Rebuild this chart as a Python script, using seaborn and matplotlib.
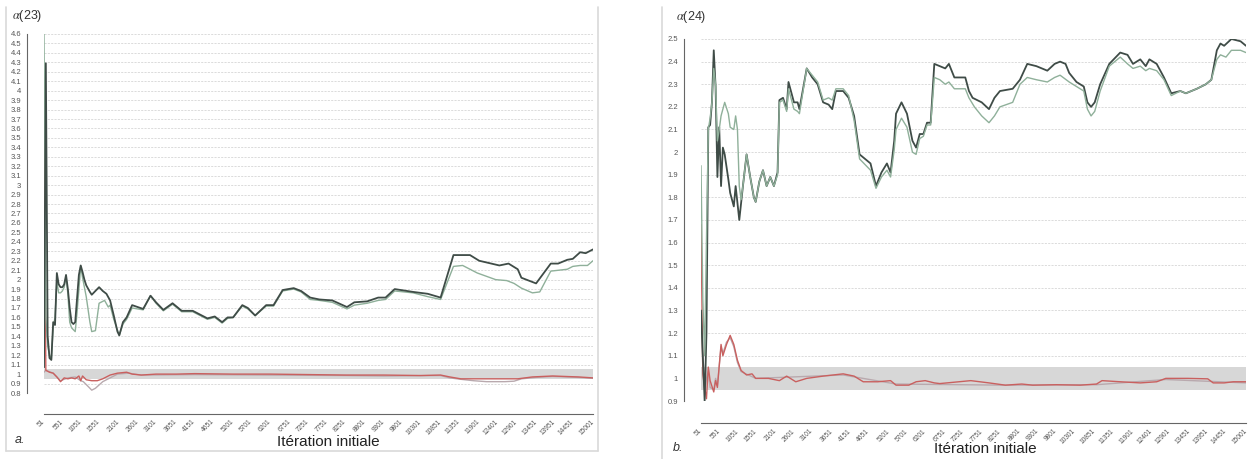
import matplotlib
matplotlib.use("Agg")
import matplotlib.pyplot as plt
import pandas as pd
import seaborn as sns
from matplotlib.lines import Line2D

sns.set_style("white")
plt.rcParams['font.family'] = ['Liberation Sans', 'DejaVu Sans']
plt.rcParams['mathtext.fontset'] = 'stix'

# x tick labels (iteration initiale), shared by both panels
iter_ticks = [51, 551, 1051, 1551, 2101, 2601, 3101, 3651, 4151, 4651, 5201, 5701,
              6201, 6751, 7251, 7751, 8251, 8801, 9301, 9801, 10301, 10851, 11351,
              11901, 12401, 12901, 13451, 13951, 14451, 15001]

a_yticks = [0.8, 0.9, 1.0, 1.1, 1.2, 1.3, 1.4, 1.5, 1.6, 1.7, 1.8, 1.9, 2.0, 2.1, 2.2,
            2.3, 2.4, 2.5, 2.6, 2.7, 2.8, 2.9, 3.0, 3.1, 3.2, 3.3, 3.4, 3.5, 3.6, 3.7,
            3.8, 3.9, 4.0, 4.1, 4.2, 4.3, 4.4, 4.5, 4.6]
b_yticks = [0.9, 1.0, 1.1, 1.2, 1.3, 1.4, 1.5, 1.6, 1.7, 1.8, 1.9, 2.0, 2.1, 2.2, 2.3,
            2.4, 2.5]

band_lo, band_hi = 0.95, 1.05

# ---- panel a : alpha(23) ----
a_dark_x = [51, 101, 151, 201, 251, 301, 351, 401, 451, 501, 551, 601, 651, 701, 751,
            801, 851, 901, 951, 1001, 1051, 1101, 1151, 1201, 1301, 1351, 1451, 1551,
            1651, 1751, 1851, 1951, 2051, 2101, 2201, 2301, 2451, 2601, 2751, 2951,
            3101, 3301, 3551, 3801, 4101, 4301, 4501, 4701, 4901, 5051, 5201, 5451,
            5601, 5801, 6101, 6301, 6551, 6851, 7051, 7301, 7551, 7901, 8301, 8501,
            8851, 9151, 9351, 9601, 10101, 10501, 10851, 11201, 11651, 11901, 12451,
            12701, 12951, 13051, 13451, 13851, 14051, 14301, 14451, 14651, 14801, 15001]
a_dark_y = [1.07, 4.29, 1.40, 1.17, 1.15, 1.55, 1.52, 2.07, 1.95, 1.92, 1.92, 1.95, 2.05,
            1.90, 1.70, 1.55, 1.53, 1.55, 1.80, 2.05, 2.15, 2.08, 2.00, 1.94, 1.87, 1.84,
            1.88, 1.92, 1.88, 1.85, 1.78, 1.62, 1.45, 1.41, 1.55, 1.60, 1.73, 1.71, 1.69,
            1.83, 1.76, 1.68, 1.75, 1.67, 1.67, 1.63, 1.59, 1.61, 1.55, 1.60, 1.60, 1.73,
            1.70, 1.62, 1.73, 1.73, 1.89, 1.91, 1.88, 1.81, 1.79, 1.78, 1.71, 1.76, 1.77,
            1.81, 1.81, 1.90, 1.87, 1.85, 1.81, 2.26, 2.26, 2.20, 2.15, 2.17, 2.11, 2.02,
            1.96, 2.17, 2.17, 2.21, 2.22, 2.29, 2.28, 2.32]

a_light_x = [51, 101, 151, 201, 251, 301, 351, 401, 451, 501, 551, 601, 651, 701, 751,
             801, 901, 951, 1051, 1101, 1201, 1301, 1351, 1451, 1551, 1701, 1801, 1851,
             1951, 2101, 2201, 2301, 2451, 2601, 2751, 2951, 3101, 3301, 3551, 3801,
             4101, 4301, 4501, 4701, 4901, 5051, 5201, 5451, 5601, 5801, 6101, 6301,
             6551, 6851, 7051, 7301, 7551, 7901, 8301, 8501, 8851, 9151, 9351, 9601,
             10101, 10501, 10851, 11201, 11451, 11851, 12351, 12651, 12851, 13051,
             13351, 13551, 13851, 14301, 14451, 14651, 14851, 15001]
a_light_y = [4.60, 1.60, 1.30, 1.20, 1.16, 1.50, 1.60, 1.98, 1.86, 1.86, 1.88, 1.92, 2.03,
             1.85, 1.55, 1.49, 1.45, 1.65, 2.14, 2.02, 1.82, 1.55, 1.45, 1.46, 1.75, 1.78,
             1.71, 1.73, 1.58, 1.41, 1.53, 1.58, 1.70, 1.69, 1.68, 1.83, 1.75, 1.67, 1.74,
             1.66, 1.66, 1.62, 1.58, 1.60, 1.54, 1.59, 1.60, 1.72, 1.69, 1.62, 1.72, 1.72,
             1.88, 1.90, 1.87, 1.79, 1.78, 1.76, 1.69, 1.73, 1.75, 1.78, 1.79, 1.88, 1.86,
             1.82, 1.79, 2.14, 2.15, 2.07, 2.00, 1.99, 1.96, 1.91, 1.86, 1.87, 2.09, 2.11,
             2.14, 2.15, 2.15, 2.20]

a_red_x = [51, 101, 201, 301, 401, 501, 601, 701, 801, 901, 1001, 1051, 1101, 1201, 1351,
           1501, 1651, 1851, 2051, 2301, 2451, 2701, 3101, 3651, 4151, 5201, 6201, 7251,
           8251, 9301, 10301, 10851, 11101, 11401, 11901, 12951, 13351, 13901, 14601, 15001]
a_red_y = [3.50, 1.04, 1.02, 1.01, 0.97, 0.92, 0.96, 0.95, 0.96, 0.95, 0.98, 0.93, 0.98,
           0.94, 0.93, 0.93, 0.95, 0.99, 1.01, 1.02, 1.00, 0.99, 1.00, 1.00, 1.005, 1.00,
           1.00, 0.995, 0.99, 0.99, 0.985, 0.99, 0.97, 0.95, 0.95, 0.95, 0.97, 0.98, 0.97,
           0.96]

a_grey_x = [51, 101, 301, 401, 501, 701, 901, 1051, 1121, 1251, 1351, 1451, 1651, 1851,
            2051, 2351, 2701, 4151, 6201, 8251, 9301, 10851, 11101, 11401, 11751, 12101,
            12601, 12851, 13051, 13451, 13901, 14601, 15001]
a_grey_y = [1.02, 1.04, 1.01, 0.97, 0.93, 0.96, 0.97, 0.93, 0.92, 0.87, 0.83, 0.85, 0.92,
            0.96, 1.00, 1.01, 0.99, 0.995, 0.99, 0.985, 0.98, 0.985, 0.96, 0.945, 0.93,
            0.92, 0.92, 0.925, 0.95, 0.965, 0.975, 0.965, 0.955]

# ---- panel b : alpha(24) ----
b_dark_x = [51, 101, 151, 201, 251, 301, 351, 401, 451, 501, 551, 601, 651, 701, 801, 851,
            951, 1001, 1101, 1201, 1301, 1401, 1501, 1551, 1651, 1751, 1851, 1951, 2051,
            2151, 2201, 2301, 2401, 2451, 2601, 2701, 2751, 2951, 3101, 3251, 3401, 3551,
            3651, 3751, 3951, 4101, 4251, 4401, 4701, 4851, 5001, 5151, 5251, 5351, 5401,
            5551, 5701, 5851, 5951, 6051, 6151, 6251, 6351, 6451, 6601, 6751, 6851, 7001,
            7151, 7301, 7401, 7501, 7751, 7951, 8101, 8251, 8601, 8801, 9001, 9251, 9551,
            9751, 9901, 10051, 10151, 10351, 10551, 10651, 10751, 10851, 11001, 11251,
            11551, 11751, 11901, 12101, 12251, 12351, 12551, 12751, 12951, 13201, 13351,
            13651, 13901, 14051, 14201, 14301, 14401, 14601, 14851, 15001]
b_dark_y = [1.30, 1.10, 0.90, 1.20, 2.11, 2.12, 2.22, 2.45, 2.29, 1.89, 2.11, 1.85, 2.02,
            1.99, 1.88, 1.82, 1.76, 1.85, 1.70, 1.85, 1.99, 1.89, 1.80, 1.78, 1.87, 1.92,
            1.85, 1.89, 1.85, 1.91, 2.23, 2.24, 2.19, 2.31, 2.22, 2.22, 2.19, 2.37, 2.33,
            2.30, 2.22, 2.21, 2.19, 2.27, 2.27, 2.24, 2.16, 1.99, 1.95, 1.85, 1.91, 1.95,
            1.91, 2.05, 2.17, 2.22, 2.17, 2.05, 2.02, 2.08, 2.08, 2.13, 2.13, 2.39, 2.38,
            2.37, 2.39, 2.33, 2.33, 2.33, 2.27, 2.24, 2.22, 2.19, 2.24, 2.27, 2.28, 2.32,
            2.39, 2.38, 2.36, 2.39, 2.40, 2.39, 2.35, 2.31, 2.29, 2.22, 2.20, 2.22, 2.30,
            2.39, 2.44, 2.43, 2.39, 2.41, 2.38, 2.41, 2.39, 2.33, 2.26, 2.27, 2.26, 2.28,
            2.30, 2.32, 2.45, 2.48, 2.47, 2.50, 2.49, 2.47]

b_light_x = [51, 101, 151, 201, 251, 301, 351, 401, 451, 501, 551, 601, 701, 801, 851, 951,
             1001, 1051, 1101, 1151, 1201, 1301, 1401, 1501, 1551, 1651, 1751, 1851, 1951,
             2051, 2151, 2201, 2301, 2401, 2451, 2601, 2701, 2751, 2951, 3101, 3251, 3401,
             3551, 3651, 3751, 3951, 4101, 4251, 4401, 4701, 4851, 5001, 5151, 5251, 5351,
             5401, 5551, 5701, 5851, 5951, 6051, 6151, 6251, 6351, 6451, 6601, 6751, 6851,
             7001, 7151, 7301, 7401, 7551, 7751, 7951, 8101, 8251, 8601, 8801, 9001, 9251,
             9551, 9751, 9901, 10151, 10351, 10551, 10651, 10751, 10851, 11001, 11251,
             11551, 11751, 11901, 12101, 12251, 12351, 12551, 12751, 12951, 13201, 13351,
             13651, 13901, 14051, 14201, 14301, 14451, 14601, 14851, 15001]
b_light_y = [1.94, 1.35, 1.10, 1.61, 2.10, 2.15, 2.22, 2.37, 2.30, 2.05, 2.10, 2.16, 2.22,
             2.17, 2.11, 2.10, 2.16, 2.10, 1.85, 1.79, 1.85, 1.99, 1.89, 1.80, 1.78, 1.87,
             1.92, 1.85, 1.89, 1.85, 1.90, 2.22, 2.23, 2.18, 2.28, 2.19, 2.18, 2.17, 2.37,
             2.34, 2.31, 2.23, 2.24, 2.23, 2.28, 2.28, 2.25, 2.14, 1.97, 1.92, 1.84, 1.89,
             1.92, 1.89, 2.01, 2.10, 2.15, 2.11, 2.00, 1.99, 2.06, 2.07, 2.12, 2.12, 2.33,
             2.32, 2.30, 2.31, 2.28, 2.28, 2.28, 2.24, 2.20, 2.16, 2.13, 2.16, 2.20, 2.22,
             2.30, 2.33, 2.32, 2.31, 2.33, 2.34, 2.31, 2.29, 2.27, 2.19, 2.16, 2.18, 2.27,
             2.38, 2.42, 2.39, 2.37, 2.38, 2.36, 2.37, 2.36, 2.32, 2.25, 2.27, 2.26, 2.28,
             2.30, 2.32, 2.41, 2.43, 2.42, 2.45, 2.45, 2.44]

b_red_x = [51, 101, 151, 201, 251, 301, 401, 451, 501, 601, 651, 751, 851, 951, 1051, 1151,
           1301, 1451, 1551, 1901, 2201, 2401, 2651, 2951, 3401, 3951, 4251, 4501, 4901,
           5251, 5401, 5751, 5951, 6201, 6451, 6601, 7451, 7951, 8401, 8851, 9151, 9801,
           10451, 10901, 11051, 11551, 12101, 12551, 12801, 13401, 13951, 14101, 14401,
           14651, 15001]
b_red_y = [1.68, 1.02, 0.96, 0.91, 1.05, 0.99, 0.94, 0.99, 0.96, 1.15, 1.10, 1.15, 1.19,
           1.15, 1.08, 1.035, 1.015, 1.02, 1.00, 1.00, 0.99, 1.01, 0.985, 1.00, 1.01, 1.02,
           1.01, 0.985, 0.985, 0.99, 0.97, 0.97, 0.985, 0.99, 0.98, 0.977, 0.99, 0.98,
           0.97, 0.975, 0.97, 0.972, 0.97, 0.975, 0.99, 0.985, 0.98, 0.985, 1.00, 1.00,
           0.998, 0.98, 0.98, 0.985, 0.985]

b_grey_x = [51, 101, 151, 201, 251, 301, 401, 451, 501, 601, 651, 751, 851, 951, 1051,
            1151, 1551, 3951, 5401, 8401, 10901, 12801, 15001]
b_grey_y = [1.30, 1.05, 0.95, 1.00, 1.03, 0.96, 0.95, 1.00, 0.97, 1.14, 1.11, 1.16, 1.18,
            1.14, 1.07, 1.03, 1.00, 1.015, 0.975, 0.97, 0.972, 0.995, 0.98]

DARK = '#3f4c47'
LIGHT = '#8fb09a'
RED = '#c9605f'
GREY = '#b9a9ae'

W, H = 1251, 459
fig = plt.figure(figsize=(W / 100, H / 100), dpi=100)


def box(l, t, r, b):
    return [l / W, 1 - b / H, (r - l) / W, (b - t) / H]


def draw_panel(ax, lines, yticks, out_y, out_x):
    ax.fill_between([iter_ticks[0], iter_ticks[-1]], band_lo, band_hi,
                    color='#d7d7d7', lw=0, zorder=1)
    for xs, ys, col, lw, z in lines:
        df = pd.DataFrame({'iteration': xs, 'alpha': ys})
        sns.lineplot(data=df, x='iteration', y='alpha', ax=ax, color=col, lw=lw,
                     estimator=None, zorder=z)
    ax.set_xlim(iter_ticks[0], iter_ticks[-1])
    ax.set_ylim(yticks[0], yticks[-1])
    ax.set_yticks(yticks)
    ax.set_yticklabels([f'{v:g}' for v in yticks])
    ax.set_xticks(iter_ticks)
    ax.set_xticklabels([str(v) for v in iter_ticks])
    ax.set_xlabel('')
    ax.set_ylabel('')
    ax.set_axisbelow(True)
    ax.yaxis.grid(True, color='#d6d6d6', lw=0.6, ls=(0, (2.5, 1.5)))
    ax.xaxis.grid(False)
    for s in ['top', 'right']:
        ax.spines[s].set_visible(False)
    ax.spines['left'].set_position(('outward', out_y))
    ax.spines['bottom'].set_position(('outward', out_x))
    for s in ['left', 'bottom']:
        ax.spines[s].set_color('#666666')
        ax.spines[s].set_linewidth(0.8)
    ax.tick_params(axis='y', direction='out', length=3, width=0.7, color='#666666',
                   labelsize=5.5, labelcolor='#555555', pad=1.5)
    ax.tick_params(axis='x', direction='out', length=2.5, width=0.7, color='#666666',
                   labelsize=4.8, labelcolor='#555555', pad=2.5)
    for lab in ax.get_xticklabels():
        lab.set_rotation(45)
        lab.set_ha('right')
        lab.set_va('center')
        lab.set_rotation_mode('anchor')
    ax.patch.set_alpha(0)


ax_a = fig.add_axes(box(44, 34, 593, 393))
draw_panel(ax_a, [(a_grey_x, a_grey_y, GREY, 1.0, 3),
                  (a_red_x, a_red_y, RED, 1.0, 4),
                  (a_light_x, a_light_y, LIGHT, 1.0, 5),
                  (a_dark_x, a_dark_y, DARK, 1.3, 6)],
           a_yticks, 12, 15)

ax_b = fig.add_axes(box(701, 39, 1246, 401))
draw_panel(ax_b, [(b_grey_x, b_grey_y, GREY, 1.0, 3),
                  (b_red_x, b_red_y, RED, 1.0, 4),
                  (b_dark_x, b_dark_y, DARK, 1.3, 5),
                  (b_light_x, b_light_y, LIGHT, 1.0, 6)],
           b_yticks, 12, 16)

# panel frames
frame_kw = dict(transform=fig.transFigure, color='#d9d9d9', lw=1.2)
fig.add_artist(Line2D([6 / W, 6 / W], [1 - 7 / H, 1 - 451 / H], **frame_kw))
fig.add_artist(Line2D([598 / W, 598 / W], [1 - 7 / H, 1 - 451 / H], **frame_kw))
fig.add_artist(Line2D([6 / W, 598 / W], [1 - 451 / H, 1 - 451 / H], **frame_kw))
fig.add_artist(Line2D([662 / W, 662 / W], [1 - 7 / H, 0], **frame_kw))

# texts
fig.text(12 / W, 1 - 16 / H, r'$\alpha$(23)', fontsize=9, color='#333333', va='center')
fig.text(676 / W, 1 - 17 / H, r'$\alpha$(24)', fontsize=9, color='#333333', va='center')
fig.text(328 / W, 1 - 442 / H, 'Itération initiale', fontsize=11, color='#222222',
         ha='center', va='center')
fig.text(985 / W, 1 - 449 / H, 'Itération initiale', fontsize=11, color='#222222',
         ha='center', va='center')
fig.text(15 / W, 1 - 440 / H, 'a.', fontsize=9, style='italic', color='#333333', va='center')
fig.text(673 / W, 1 - 448 / H, 'b.', fontsize=9, style='italic', color='#333333', va='center')

fig.savefig('out.png', dpi=100, facecolor='white')
